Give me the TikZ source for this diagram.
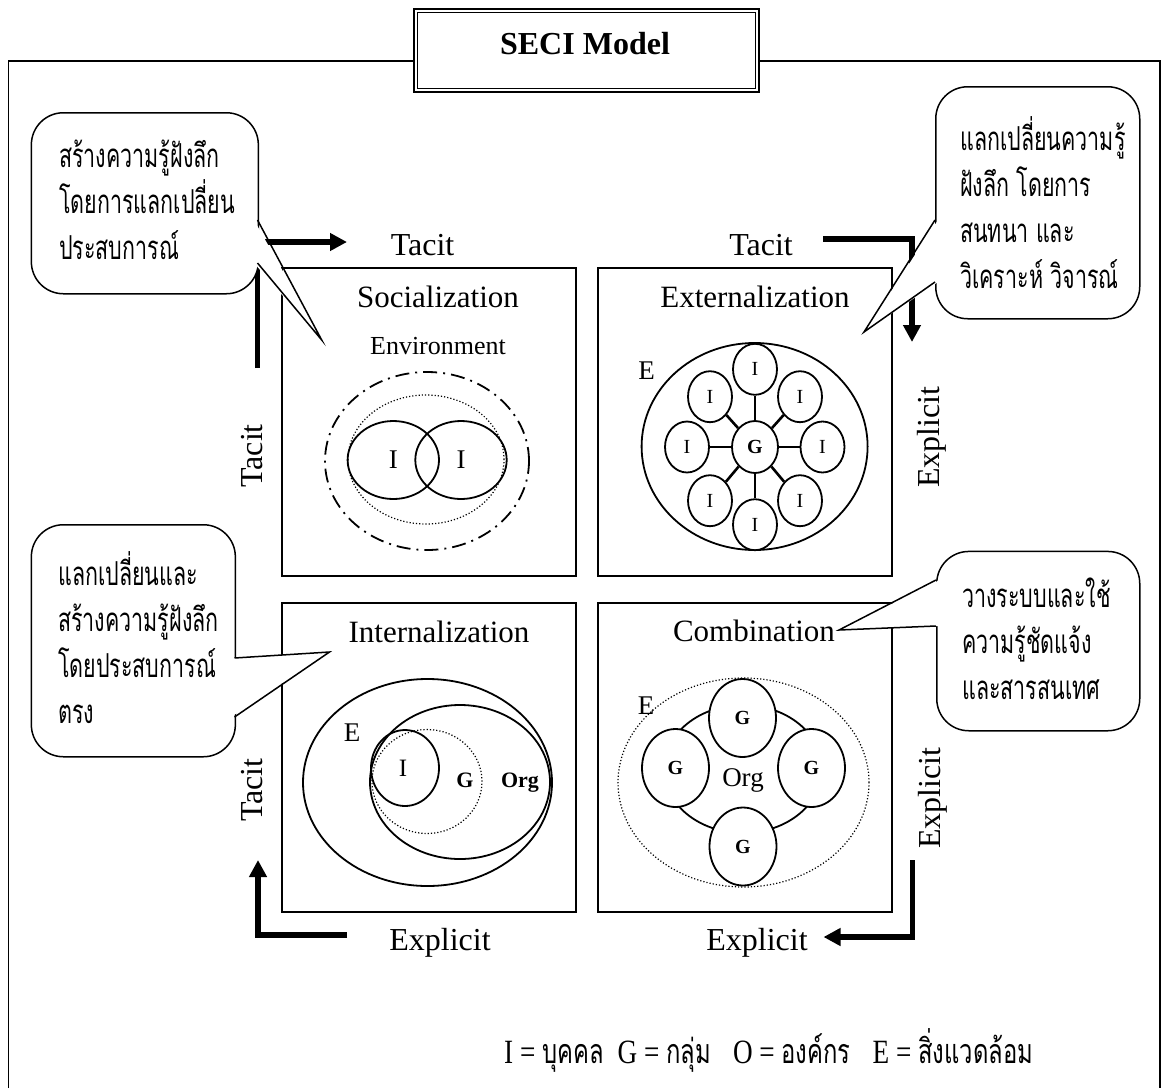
\documentclass[tikz,border=0pt]{standalone}
\usepackage{fontspec}
\setmainfont{Liberation Serif}
\newfontfamily\thaifont[Script=Thai,FakeStretch=0.65]{Loma}
\newfontfamily\thaiwide[Script=Thai,FakeStretch=0.7]{Loma}
\newfontfamily\legendlatin[FakeStretch=0.8]{Liberation Serif}
\usetikzlibrary{arrows.meta,shapes.geometric}

\begin{document}
\begin{tikzpicture}[x=1pt,y=-1pt,
  outerframe/.style={draw, line width=1.8pt},
  quad/.style={draw, line width=2pt, minimum width=294pt, minimum height=308pt, anchor=north west, inner sep=0pt},
  ring/.style={draw, line width=1.8pt},
  dots/.style={draw, line width=1.2pt, dash pattern=on 1.2pt off 2pt},
  dashdot/.style={draw, line width=1.8pt, dash pattern=on 14pt off 6pt on 2pt off 6pt},
  oval/.style={ellipse, draw, line width=1.8pt, inner sep=0pt},
  spoke/.style={line width=2.6pt},
  flow/.style={line width=5.5pt, line join=miter, -{Triangle[length=17pt,width=17pt]}},
  axislabel/.style={font=\fontsize{32}{38}\selectfont, anchor=base, inner sep=0pt},
  quadtitle/.style={font=\fontsize{31}{37}\selectfont, anchor=base, inner sep=0pt},
  innerlabel/.style={font=\fontsize{27}{32}\selectfont, anchor=base, inner sep=0pt},
  boldlabel/.style={font=\bfseries\fontsize{22}{26}\selectfont, anchor=base, inner sep=0pt},
  bubble/.style={draw, fill=white, line width=1.5pt, rounded corners=32pt, anchor=north west, inner sep=0pt},
  note/.style={font=\thaifont\fontsize{33}{46}\selectfont, align=left, anchor=west, inner sep=0pt},
  tail/.style={draw, line width=1.5pt, line join=miter},
]
\useasboundingbox (0,0) rectangle (1163,1088);

% outer frame, open at the lower edge
\draw[outerframe] (8.4,1088) -- (8.4,61) -- (1160,61) -- (1160,1088);

% title plate with a double border
\node[draw, fill=white, line width=2.6pt, minimum width=345pt, minimum height=83pt,
      anchor=north west, inner sep=0pt] (plate) at (412.5,7.5) {};
\draw[line width=1pt] ([shift={(4.5,4.5)}]plate.north west) rectangle ([shift={(-4.5,-4.5)}]plate.south east);
\node[font=\bfseries\fontsize{32}{38}\selectfont, anchor=base, inner sep=0pt] (title) at (585,54) {SECI Model};

% the four quadrants
\node[quad] (soc) at (281,267) {};
\node[quad] (ext) at (596.5,267) {};
\node[quad, minimum height=309pt] (int) at (281,602) {};
\node[quad, minimum height=309pt] (com) at (596.5,602) {};

\node[quadtitle] (socT) at (438,307.5) {Socialization};
\node[quadtitle] (extT) at (755,307) {Externalization};
\node[quadtitle] (intT) at (439,642) {Internalization};
\node[quadtitle] (comT) at (754,641) {Combination};

% Socialization: two individuals inside the environment
\node[innerlabel, font=\fontsize{26}{31}\selectfont] (env) at (438,354) {Environment};
\draw[dashdot] (427,461) ellipse [x radius=102pt, y radius=89pt];
\draw[dots] (426,459.5) ellipse [x radius=78pt, y radius=64.5pt];
\node[oval, minimum width=91.4pt, minimum height=78pt, font=\fontsize{27}{32}\selectfont] (si1) at (393.3,460) {I};
\node[oval, minimum width=91.4pt, minimum height=78pt, font=\fontsize{27}{32}\selectfont] (si2) at (461,460) {I};

% Externalization: individuals linked to a group
\draw[ring] (754.6,446.5) ellipse [x radius=113pt, y radius=103.5pt];
\node[innerlabel] (extE) at (646.5,379) {E};
\node[oval, fill=white, minimum width=46pt, minimum height=52pt, font=\bfseries\fontsize{20}{24}\selectfont] (eg) at (755,447) {G};
\foreach \nm/\px/\py in {en/755/369.3, ene/800/396.7, ee/822.5/447, ese/800/500.7,
                          es/755/524.7, esw/710/500.7, ew/687/447, enw/710/396.7}{
  \node[oval, fill=white, minimum width=44pt, minimum height=51pt, font=\fontsize{20}{24}\selectfont] (\nm) at (\px,\py) {I};
  \draw[spoke] (eg) -- (\nm);
}

% Internalization: nested individual, group, organisation
\draw[ring] (427.5,782.5) ellipse [x radius=124.5pt, y radius=103.5pt];
\draw[ring] (460,782) ellipse [x radius=90pt, y radius=77pt];
\draw[dots] (427,781.5) ellipse [x radius=55pt, y radius=52pt];
\draw[ring] (405,768) ellipse [x radius=34pt, y radius=38pt];
\node[innerlabel] (intE) at (352,741) {E};
\node[innerlabel, font=\fontsize{25}{30}\selectfont] (intI) at (403,776) {I};
\node[boldlabel] (intG) at (465,787) {G};
\node[boldlabel] (intO) at (520,787) {Org};

% Combination: groups around the organisation
\draw[dots] (743.5,782.5) ellipse [x radius=125.5pt, y radius=104.5pt];
\draw[ring] (743,769) ellipse [x radius=79pt, y radius=64pt];
\node[innerlabel] (comE) at (646,714) {E};
\node[innerlabel] (comO) at (743,786) {Org};
\foreach \nm/\px/\py in {cn/742.5/718, cw/675.5/768, ce/811.5/768, cs/743/846.5}{
  \node[oval, fill=white, minimum width=67pt, minimum height=78pt, font=\bfseries\fontsize{20}{24}\selectfont] (\nm) at (\px,\py) {G};
}

% axis labels
\node[axislabel] (tacitTL) at (422.5,255) {Tacit};
\node[axislabel] (tacitTR) at (761,255) {Tacit};
\node[axislabel, rotate=90] (tacitL1) at (262,456) {Tacit};
\node[axislabel, rotate=90] (tacitL2) at (262,790) {Tacit};
\node[axislabel, rotate=90] (explR1) at (939,437) {Explicit};
\node[axislabel, rotate=90] (explR2) at (940,798) {Explicit};
\node[axislabel] (explB1) at (440,950) {Explicit};
\node[axislabel] (explB2) at (757,950) {Explicit};

% conversion arrows
\coordinate (a1s) at (257.7,368); \coordinate (a1c) at (257.7,242); \coordinate (a1e) at (347,242);
\coordinate (a2s) at (823,239);   \coordinate (a2c) at (912,239);   \coordinate (a2e) at (912,342);
\coordinate (a3s) at (912.5,860); \coordinate (a3c) at (912.5,937); \coordinate (a3e) at (823.5,937);
\coordinate (a4s) at (347,935);   \coordinate (a4c) at (258,935);   \coordinate (a4e) at (258,860);
\draw[flow] (a1s) -- (a1c) -- (a1e);
\draw[flow] (a2s) -- (a2c) -- (a2e);
\draw[flow] (a3s) -- (a3c) -- (a3e);
\draw[flow] (a4s) -- (a4c) -- (a4e);

% speech bubbles
\node[bubble, minimum width=227pt, minimum height=181pt] (b1) at (30.6,112) {};
\fill[white] (254,220) -- (321.7,340) -- (254,263) -- cycle;
\draw[tail] (257.5,220) -- (321.7,340) -- (257.5,263);
\node[note] (n1) at (59,200) {สร้างความรู้ฝังลึก\\โดยการแลกเปลี่ยน\\ประสบการณ์};

\node[bubble, minimum width=204pt, minimum height=232pt] (b2) at (935,86) {};
\fill[white] (938,220) -- (864,332) -- (938,282) -- cycle;
\draw[tail] (935,220) -- (864,332) -- (935,282);
\node[note] (n2) at (960,202.5) {แลกเปลี่ยนความรู้\\ฝังลึก โดยการ\\สนทนา และ\\วิเคราะห์ วิจารณ์};

\node[bubble, minimum width=204pt, minimum height=232pt] (b3) at (30.6,524) {};
\fill[white] (231,658) -- (329.5,652) -- (231,717) -- cycle;
\draw[tail] (234.5,658) -- (329.5,652) -- (234.5,717);
\node[note] (n3) at (58,637.5) {แลกเปลี่ยนและ\\สร้างความรู้ฝังลึก\\โดยประสบการณ์\\ตรง};

\node[bubble, minimum width=203pt, minimum height=179.3pt] (b4) at (936,550.7) {};
\fill[white] (939.5,580) -- (839,630) -- (939.5,626) -- cycle;
\draw[tail] (936,580) -- (839,630) -- (936,626);
\node[note] (n4) at (962,639) {วางระบบและใช้\\ความรู้ชัดแจ้ง\\และสารสนเทศ};

% legend
\node[font=\thaiwide\fontsize{34}{40}\selectfont, anchor=west, inner sep=0pt] (legend) at (504,1050)
  {{\legendlatin I = }บุคคล\hspace{14pt}{\legendlatin G = }กลุ่ม\hspace{22pt}{\legendlatin O = }องค์กร\hspace{22pt}{\legendlatin E = }สิ่งแวดล้อม};
\end{tikzpicture}
\end{document}
